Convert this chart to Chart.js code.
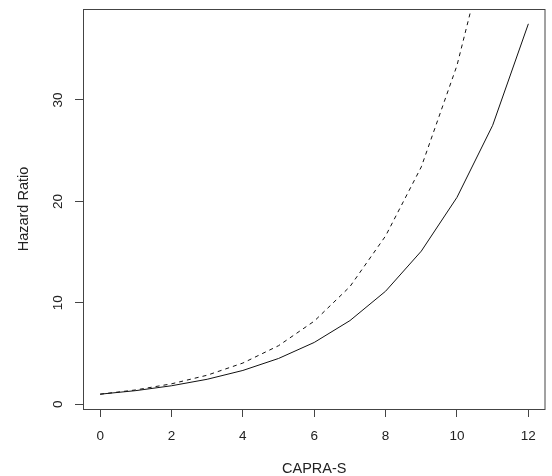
<!DOCTYPE html>
<html>
<head>
<meta charset="utf-8">
<script src="https://cdn.jsdelivr.net/npm/chart.js@4.4.1/dist/chart.umd.min.js"></script>
<style>
  html, body { margin: 0; padding: 0; background: #fff; }
  #wrap { width: 552px; height: 476px; position: relative; }
</style>
</head>
<body>
<div id="wrap"><canvas id="hr-chart"></canvas></div>
<script>
// CAPRA-S score vs hazard ratio, two fitted curves
const capraScores = [0, 1, 2, 3, 4, 5, 6, 7, 8, 9, 10, 11, 12];
const hrSolid = [1.0, 1.35, 1.83, 2.47, 3.34, 4.52, 6.1, 8.25, 11.15, 15.1, 20.4, 27.5, 37.5];
const hrDashed = [1.0, 1.42, 2.02, 2.87, 4.07, 5.78, 8.2, 11.6, 16.6, 23.4, 33.4, 47.4, 67.3];
const xTicks = [0, 2, 4, 6, 8, 10, 12];
const yTicks = [0, 10, 20, 30];

const FONT = "'Liberation Sans', Arial, sans-serif";
const TEXT = "#222";
const AXIS = "#444";

const toPoints = (ys) => capraScores.map((x, i) => ({ x, y: ys[i] }));
const fixTicks = (vals) => (scale) => {
  scale.ticks = vals.map((v) => ({ value: v }));
};

// box round the plot + rotated y tick labels (R style)
const rFrame = {
  id: "rFrame",
  afterDraw(chart) {
    const { ctx, chartArea: a, scales } = chart;
    ctx.save();
    ctx.strokeStyle = AXIS;
    ctx.lineWidth = 1;
    ctx.strokeRect(a.left + 0.5, a.top + 0.5, a.right - a.left - 1, a.bottom - a.top);
    ctx.fillStyle = TEXT;
    ctx.font = `13.5px ${FONT}`;
    ctx.textAlign = "center";
    ctx.textBaseline = "middle";
    yTicks.forEach((v) => {
      const y = scales.y.getPixelForValue(v);
      ctx.save();
      ctx.translate(58, y);
      ctx.rotate(-Math.PI / 2);
      ctx.fillText(String(v), 0, 0);
      ctx.restore();
    });
    ctx.restore();
  },
};

new Chart(document.getElementById("hr-chart"), {
  type: "line",
  data: {
    datasets: [
      {
        label: "solid",
        data: toPoints(hrSolid),
        borderColor: "#111",
        borderWidth: 1,
        pointRadius: 0,
        tension: 0,
      },
      {
        label: "dashed",
        data: toPoints(hrDashed),
        borderColor: "#111",
        borderWidth: 1,
        borderDash: [4, 4],
        pointRadius: 0,
        tension: 0,
      },
    ],
  },
  options: {
    responsive: true,
    maintainAspectRatio: false,
    animation: false,
    events: [],
    layout: { padding: { top: 9, right: 6.5, left: 0, bottom: 0 } },
    plugins: { legend: { display: false }, tooltip: { enabled: false } },
    scales: {
      x: {
        type: "linear",
        min: -0.48,
        max: 12.48,
        afterBuildTicks: fixTicks(xTicks),
        afterFit: (s) => { s.height = 67; },
        border: { display: false },
        grid: { drawOnChartArea: false, drawTicks: true, tickLength: 8, color: AXIS },
        ticks: { color: TEXT, font: { family: FONT, size: 13.5 }, padding: 11, maxRotation: 0 },
        title: {
          display: true,
          text: "CAPRA-S",
          color: TEXT,
          font: { family: FONT, size: 14.5 },
          padding: { top: 0, bottom: -2 },
        },
      },
      y: {
        type: "linear",
        min: -0.46,
        max: 38.96,
        afterBuildTicks: fixTicks(yTicks),
        afterFit: (s) => { s.width = 83; },
        border: { display: false },
        grid: { drawOnChartArea: false, drawTicks: true, tickLength: 8, color: AXIS },
        ticks: { display: false },
        title: {
          display: true,
          text: "Hazard Ratio",
          color: TEXT,
          font: { family: FONT, size: 14.5 },
          padding: { top: 15, bottom: 0 },
        },
      },
    },
  },
  plugins: [rFrame],
});
</script>
</body>
</html>
